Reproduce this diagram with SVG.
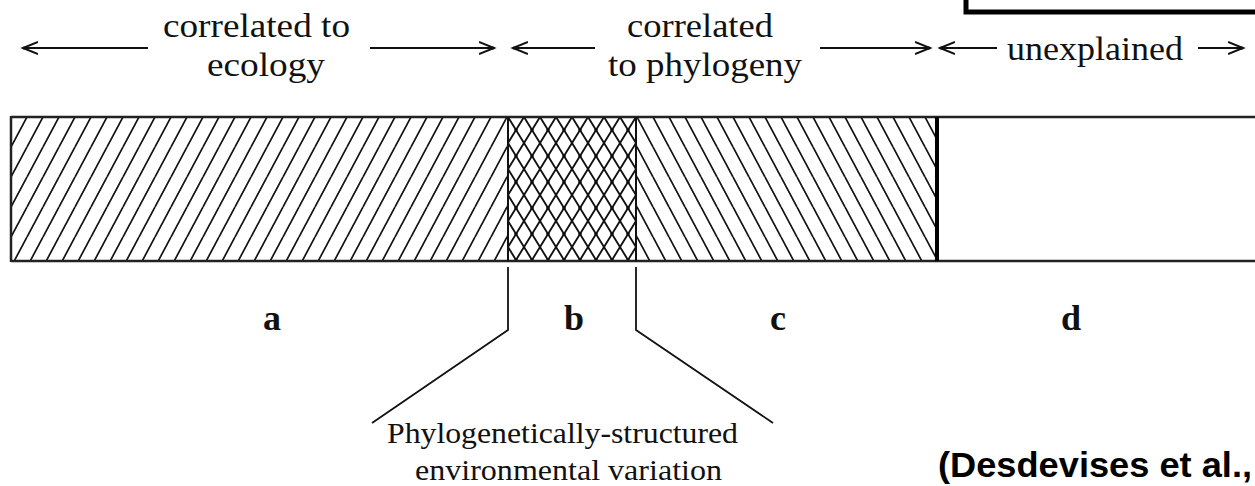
<svg xmlns="http://www.w3.org/2000/svg" width="1255" height="486" viewBox="0 0 1255 486">
<style>
.lbl{font-family:"Liberation Serif","Times New Roman",serif;font-size:34px;fill:#111}
.sec{font-family:"Liberation Serif","Times New Roman",serif;font-size:36px;font-weight:bold;fill:#111}
.note{font-family:"Liberation Serif","Times New Roman",serif;font-size:30px;fill:#111}
.cite{font-family:"Liberation Sans",Arial,sans-serif;font-size:35px;font-weight:bold;fill:#000}
.arr{stroke:#111;stroke-width:2;fill:none}
.edge{stroke:#222;stroke-width:2.5;fill:none}
.lead{stroke:#111;stroke-width:1.8;fill:none}
</style>
<defs>
<pattern id="hatchA" patternUnits="userSpaceOnUse" x="11" y="117" width="16" height="30">
<path d="M0,30 L16,0 M-16,30 L0,0 M16,30 L32,0" stroke="#111" stroke-width="1.7"/>
</pattern>
<pattern id="hatchC" patternUnits="userSpaceOnUse" x="637" y="117" width="16" height="30">
<path d="M0,0 L16,30 M-16,0 L0,30 M16,0 L32,30" stroke="#111" stroke-width="1.7"/>
</pattern>
<pattern id="hatchB" patternUnits="userSpaceOnUse" x="508" y="117" width="16" height="26">
<path d="M0,0 L16,26 M16,0 L0,26 M-16,0 L0,26 M16,26 L32,0" stroke="#111" stroke-width="1.9"/>
<circle cx="8" cy="13" r="1.8" fill="#111"/>
</pattern>
<marker id="chev" markerWidth="20" markerHeight="16" refX="15" refY="8" orient="auto-start-reverse" markerUnits="userSpaceOnUse">
<path d="M0,2 L15,8 L0,14" stroke="#111" stroke-width="2" fill="none"/>
<circle cx="14" cy="8" r="1.6" fill="#111"/>
</marker>
</defs>

<g id="source-box">
<path d="M966,-10 L966,12 L1260,12" stroke="#000" stroke-width="5" fill="none"/>
</g>

<g id="headers">
<text class="lbl" x="163" y="37" textLength="187" lengthAdjust="spacingAndGlyphs">correlated to</text>
<text class="lbl" x="207" y="76" textLength="118" lengthAdjust="spacingAndGlyphs">ecology</text>
<text class="lbl" x="627" y="37" textLength="146" lengthAdjust="spacingAndGlyphs">correlated</text>
<text class="lbl" x="608" y="76" textLength="194" lengthAdjust="spacingAndGlyphs">to phylogeny</text>
<text class="lbl" x="1007" y="60" textLength="176" lengthAdjust="spacingAndGlyphs">unexplained</text>
</g>

<g id="connectors">
<line class="arr" x1="23" y1="48" x2="148" y2="48" marker-start="url(#chev)"/>
<line class="arr" x1="370" y1="48" x2="494" y2="48" marker-end="url(#chev)"/>
<line class="arr" x1="513" y1="48" x2="595" y2="48" marker-start="url(#chev)"/>
<line class="arr" x1="820" y1="48" x2="930" y2="48" marker-end="url(#chev)"/>
<line class="arr" x1="940" y1="48" x2="997" y2="48" marker-start="url(#chev)"/>
<line class="arr" x1="1198" y1="48" x2="1243" y2="48" marker-end="url(#chev)"/>
<polyline class="lead" points="508,267 508,330 372,423"/>
<polyline class="lead" points="636,267 636,330 773,423"/>
</g>

<g id="bar">
<rect id="seg-a" x="11" y="117" width="497" height="144" fill="url(#hatchA)"/>
<rect id="seg-b" x="508" y="117" width="128" height="144" fill="url(#hatchB)"/>
<rect id="seg-c" x="636" y="117" width="301" height="144" fill="url(#hatchC)"/>
<rect id="seg-d" x="937" y="117" width="318" height="144" fill="#fff"/>
<line class="edge" x1="11" y1="117" x2="1255" y2="117"/>
<line class="edge" x1="11" y1="261" x2="1255" y2="261"/>
<line class="edge" x1="11" y1="116" x2="11" y2="262"/>
<line stroke="#111" stroke-width="2" x1="508" y1="117" x2="508" y2="261"/>
<line stroke="#111" stroke-width="2" x1="636" y1="117" x2="636" y2="261"/>
<line stroke="#000" stroke-width="4" x1="937" y1="117" x2="937" y2="261"/>
</g>

<g id="labels">
<text class="sec" x="272" y="330" text-anchor="middle">a</text>
<text class="sec" x="574" y="330" text-anchor="middle">b</text>
<text class="sec" x="778" y="330" text-anchor="middle">c</text>
<text class="sec" x="1071" y="330" text-anchor="middle">d</text>
</g>

<g id="note">
<text class="note" x="387" y="443" textLength="351" lengthAdjust="spacingAndGlyphs">Phylogenetically-structured</text>
<text class="note" x="415" y="480" textLength="307" lengthAdjust="spacingAndGlyphs">environmental variation</text>
</g>

<g id="citation">
<text class="cite" x="938" y="477" textLength="314" lengthAdjust="spacingAndGlyphs">(Desdevises et al.,</text>
</g>
</svg>
